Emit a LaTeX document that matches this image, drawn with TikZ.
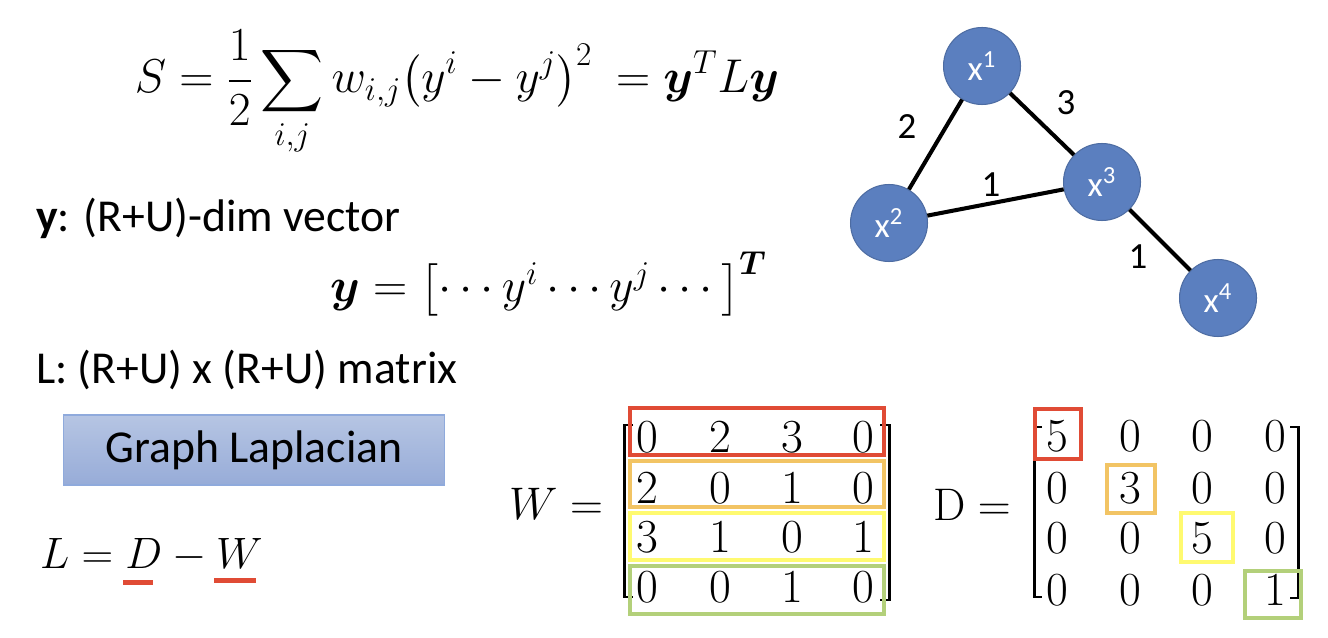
\RequirePackage{fix-cm}
\documentclass[tikz,border=0pt]{standalone}
\usepackage{amsmath}
\usepackage{bm}
\usepackage[no-math]{fontspec}
\setmainfont{Carlito}
\usepackage{xcolor}
\usepackage{tikz}
\usetikzlibrary{positioning}

\definecolor{nodeblue}{HTML}{5B7FBF}
\definecolor{lapTop}{HTML}{B6C5E3}
\definecolor{lapBot}{HTML}{97ACD8}
\definecolor{lapLine}{HTML}{8FAADC}
\definecolor{hlred}{HTML}{E04B35}
\definecolor{hlorange}{HTML}{F2C464}
\definecolor{hlyellow}{HTML}{FFFA70}
\definecolor{hlgreen}{HTML}{B3D07A}

\begin{document}
\begin{tikzpicture}[x=0.02cm,y=-0.02cm,
	vertex/.style={circle,fill=nodeblue,draw=nodeblue!85!black,line width=0.6pt,minimum size=1.54cm,inner sep=0pt,text=white,font=\fontsize{20}{23}\selectfont},
	weight/.style={font=\fontsize{21}{24}\selectfont},
	edge/.style={line width=2.3pt},
	txt/.style={anchor=base west,font=\fontsize{26}{30}\selectfont},
	eq/.style={font=\fontsize{27}{32}\selectfont},
	entry/.style={font=\fontsize{27}{32}\selectfont,inner sep=0pt},
	hl/.style={line width=2.3pt},
	brk/.style={line width=1.7pt},
	lapbox/.style={top color=lapTop,bottom color=lapBot,draw=lapLine,line width=1pt,minimum width=7.62cm,minimum height=1.4cm,font=\fontsize{26}{30}\selectfont}]
	\useasboundingbox (0,0) rectangle (1328,638);
	% formulas and text
	\node[eq,anchor=base] (seq) at (457,93) {$\displaystyle S=\frac{1}{2}\sum_{i,j} w_{i,j}\bigl(y^i-y^j\bigr)^2\ =\bm{y}^T L\bm{y}$};
	\node[txt] (ylab) at (30,232) {\textbf{y}: (R+U)-dim vector};
	\node[eq,anchor=base west] (yvec) at (324,302) {$\bm{y}=\bigl[\cdots y^i\cdots y^j\cdots\bigr]^{\bm{T}}$};
	\node[txt] (llab) at (30,383) {L: (R+U) x (R+U) matrix};
	\node[lapbox] (lap) at (254,450) {Graph Laplacian};
	\node[eq,font=\fontsize{25}{30}\selectfont,anchor=base west] (ldw) at (34,568) {$L=D-W$};
	\fill[hlred] (123,580) rectangle (153,585);
	\fill[hlred] (214,578) rectangle (256,583);
	% graph
	\node[vertex] (x1) at (982,66) {x\textsuperscript{1}};
	\node[vertex] (x2) at (889,223) {x\textsuperscript{2}};
	\node[vertex] (x3) at (1102,182) {x\textsuperscript{3}};
	\node[vertex] (x4) at (1218,298) {x\textsuperscript{4}};
	\draw[edge] (x1) -- (x2);
	\draw[edge] (x1) -- (x3);
	\draw[edge] (x2) -- (x3);
	\draw[edge] (x3) -- (x4);
	\node[weight] (lab12) at (907,127) {2};
	\node[weight] (lab13) at (1066,103) {3};
	\node[weight] (lab23) at (991,185) {1};
	\node[weight] (lab34) at (1138,257) {1};
	% W matrix
	\node[eq,font=\fontsize{26}{31}\selectfont] (wlab) at (556,504) {$W=$};
	\draw[brk] (633,425) -- (624,425) -- (624,597) -- (633,597);
	\draw[brk] (880,425) -- (889,425) -- (889,600) -- (880,600);
	\foreach \r/\y/\ea/\eb/\ec/\ed in {1/437/0/2/3/0,2/488/2/0/1/0,3/537/3/1/0/1,4/587/0/0/1/0}{
		\node[entry] (mw\r1) at (647,\y) {$\ea$};
		\node[entry] (mw\r2) at (720,\y) {$\eb$};
		\node[entry] (mw\r3) at (792,\y) {$\ec$};
		\node[entry] (mw\r4) at (863,\y) {$\ed$};
	}
	\draw[hl,hlred] (630,408) rectangle (884,455);
	\draw[hl,hlorange] (630,461) rectangle (884,507);
	\draw[hl,hlyellow] (630,513) rectangle (884,560);
	\draw[hl,hlgreen] (630,566) rectangle (884,614);
	% D matrix
	\node[eq,font=\fontsize{26}{31}\selectfont] (dlab) at (972,505) {$\mathrm{D}=$};
	\draw[brk] (1042,427) -- (1034,427) -- (1034,597) -- (1042,597);
	\draw[brk] (1290,427) -- (1298,427) -- (1298,598) -- (1290,598);
	\foreach \r/\y/\ea/\eb/\ec/\ed in {1/436/5/0/0/0,2/488/0/3/0/0,3/538/0/0/5/0,4/590/0/0/0/1}{
		\node[entry] (md\r1) at (1057,\y) {$\ea$};
		\node[entry] (md\r2) at (1130,\y) {$\eb$};
		\node[entry] (md\r3) at (1202,\y) {$\ec$};
		\node[entry] (md\r4) at (1275,\y) {$\ed$};
	}
	\draw[hl,hlred] (1035,409) rectangle (1081,459);
	\draw[hl,hlorange] (1107,465) rectangle (1155,513);
	\draw[hl,hlyellow] (1181,513) rectangle (1233,562);
	\draw[hl,hlgreen] (1245,571) rectangle (1301,618);
\end{tikzpicture}
\end{document}
